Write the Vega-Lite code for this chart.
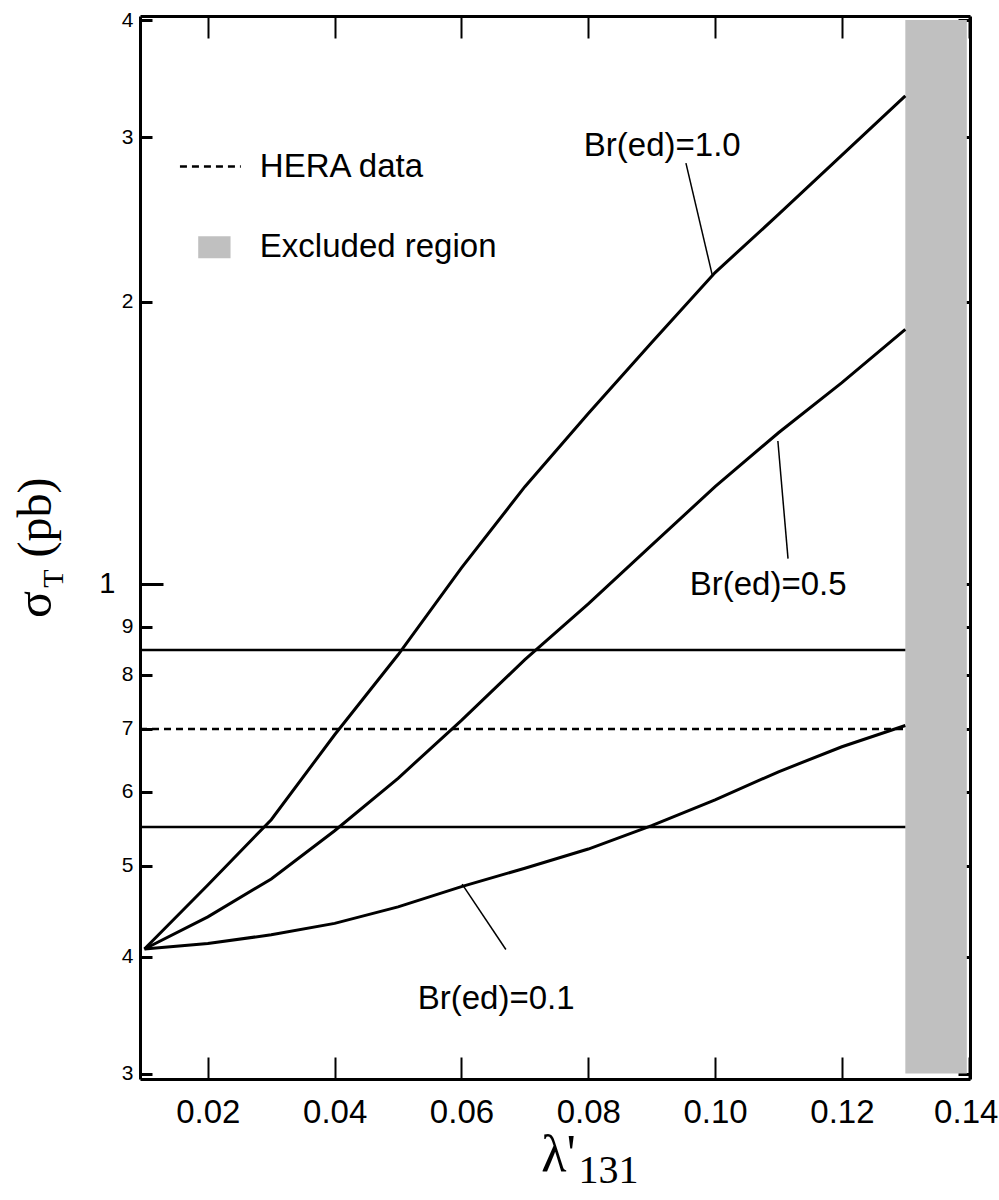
{
  "$schema": "https://vega.github.io/schema/vega-lite/v6.json",
  "width": 830,
  "height": 1063,
  "autosize": {"type": "none"},
  "padding": {"left": 140, "top": 16, "right": 29, "bottom": 121},
  "background": "white",
  "config": {
    "view": {"stroke": null},
    "axis": {"grid": false, "titleFontWeight": "normal", "titleColor": "black", "labelColor": "black", "tickColor": "black", "domainColor": "black"}
  },
  "datasets": {
    "curves": [
      {"lam": 0.01, "sigma": 0.4075, "br": "1.0"}, {"lam": 0.02, "sigma": 0.477, "br": "1.0"}, {"lam": 0.03, "sigma": 0.56, "br": "1.0"},
      {"lam": 0.04, "sigma": 0.69, "br": "1.0"}, {"lam": 0.05, "sigma": 0.84, "br": "1.0"}, {"lam": 0.06, "sigma": 1.04, "br": "1.0"},
      {"lam": 0.07, "sigma": 1.27, "br": "1.0"}, {"lam": 0.08, "sigma": 1.52, "br": "1.0"}, {"lam": 0.09, "sigma": 1.81, "br": "1.0"},
      {"lam": 0.10, "sigma": 2.15, "br": "1.0"}, {"lam": 0.11, "sigma": 2.48, "br": "1.0"}, {"lam": 0.12, "sigma": 2.87, "br": "1.0"},
      {"lam": 0.13, "sigma": 3.32, "br": "1.0"},
      {"lam": 0.01, "sigma": 0.4075, "br": "0.5"}, {"lam": 0.02, "sigma": 0.441, "br": "0.5"}, {"lam": 0.03, "sigma": 0.484, "br": "0.5"},
      {"lam": 0.04, "sigma": 0.545, "br": "0.5"}, {"lam": 0.05, "sigma": 0.62, "br": "0.5"}, {"lam": 0.06, "sigma": 0.715, "br": "0.5"},
      {"lam": 0.07, "sigma": 0.83, "br": "0.5"}, {"lam": 0.08, "sigma": 0.952, "br": "0.5"}, {"lam": 0.09, "sigma": 1.10, "br": "0.5"},
      {"lam": 0.10, "sigma": 1.27, "br": "0.5"}, {"lam": 0.11, "sigma": 1.45, "br": "0.5"}, {"lam": 0.12, "sigma": 1.64, "br": "0.5"},
      {"lam": 0.13, "sigma": 1.87, "br": "0.5"},
      {"lam": 0.01, "sigma": 0.4075, "br": "0.1"}, {"lam": 0.02, "sigma": 0.413, "br": "0.1"}, {"lam": 0.03, "sigma": 0.422, "br": "0.1"},
      {"lam": 0.04, "sigma": 0.434, "br": "0.1"}, {"lam": 0.05, "sigma": 0.452, "br": "0.1"}, {"lam": 0.06, "sigma": 0.475, "br": "0.1"},
      {"lam": 0.07, "sigma": 0.497, "br": "0.1"}, {"lam": 0.08, "sigma": 0.521, "br": "0.1"}, {"lam": 0.09, "sigma": 0.552, "br": "0.1"},
      {"lam": 0.10, "sigma": 0.588, "br": "0.1"}, {"lam": 0.11, "sigma": 0.630, "br": "0.1"}, {"lam": 0.12, "sigma": 0.670, "br": "0.1"},
      {"lam": 0.13, "sigma": 0.706, "br": "0.1"}
    ],
    "hlines": [
      {"sigma": 0.85, "from": 0.0093, "to": 0.13, "kind": "limit"},
      {"sigma": 0.70, "from": 0.0093, "to": 0.13, "kind": "HERA data"},
      {"sigma": 0.55, "from": 0.0093, "to": 0.13, "kind": "limit"}
    ],
    "excluded": [{"from": 0.13, "to": 0.1397, "low": 0.3, "high": 4.0}],
    "pointers": [
      {"x1": 0.0954, "y1": 2.814, "x2": 0.0996, "y2": 2.13},
      {"x1": 0.1099, "y1": 1.421, "x2": 0.1115, "y2": 1.064},
      {"x1": 0.0601, "y1": 0.478, "x2": 0.0670, "y2": 0.407}
    ],
    "labels": [
      {"text": "Br(ed)=1.0", "lam": 0.0793, "sigma": 2.934},
      {"text": "Br(ed)=0.5", "lam": 0.0960, "sigma": 0.998},
      {"text": "Br(ed)=0.1", "lam": 0.0531, "sigma": 0.360}
    ],
    "legendLine": [{"from": 0.0156, "to": 0.0252, "sigma": 2.79}],
    "legendBox": [{"from": 0.01848, "to": 0.02358, "low": 2.227, "high": 2.351}],
    "legendText": [
      {"text": "HERA data", "lam": 0.0282, "sigma": 2.79},
      {"text": "Excluded region", "lam": 0.0282, "sigma": 2.291}
    ]
  },
  "layer": [
    {
      "data": {"name": "excluded"},
      "mark": {"type": "rect", "fill": "#c0c0c0"},
      "encoding": {
        "x": {"field": "from", "type": "quantitative",
          "scale": {"type": "linear", "domain": [0.0093, 0.1402], "nice": false, "zero": false},
          "axis": {"orient": "top", "values": [0.02, 0.04, 0.06, 0.08, 0.1, 0.12, 0.14], "labels": false, "tickSize": -22, "tickWidth": 2, "domainWidth": 3, "title": null}},
        "x2": {"field": "to"},
        "y": {"field": "low", "type": "quantitative",
          "scale": {"type": "log", "domain": [0.296, 4.04], "nice": false},
          "axis": {"orient": "right", "values": [0.3, 0.4, 0.5, 0.6, 0.7, 0.8, 0.9, 1, 2, 3, 4], "labels": false,
            "tickSize": {"condition": {"test": "datum.value == 1", "value": -23}, "value": -12}, "tickWidth": 3, "domainWidth": 3, "title": null}},
        "y2": {"field": "high"}
      }
    },
    {
      "data": {"name": "hlines"},
      "mark": {"type": "rule", "strokeWidth": 2.5, "color": "black"},
      "encoding": {
        "x": {"field": "from", "type": "quantitative",
          "scale": {"type": "linear", "domain": [0.0093, 0.1402], "nice": false, "zero": false},
          "axis": {"orient": "bottom", "labels": false, "ticks": false, "domain": false, "title": "131",
            "titleFont": "Liberation Serif", "titleFontSize": 40, "titleX": 438, "titleY": 103, "titleAlign": "left", "titleBaseline": "alphabetic"}},
        "x2": {"field": "to"},
        "y": {"field": "sigma", "type": "quantitative",
          "scale": {"type": "log", "domain": [0.296, 4.04], "nice": false},
          "axis": {"orient": "left", "labels": false, "ticks": false, "domain": false, "title": "T",
            "titleFont": "Liberation Serif", "titleFontSize": 30, "titleAngle": -90, "titleX": -78, "titleY": 562, "titleAlign": "center", "titleBaseline": "alphabetic"}},
        "strokeDash": {"field": "kind", "type": "nominal", "scale": {"domain": ["limit", "HERA data"], "range": [[1, 0], [7, 5]]}, "legend": null}
      }
    },
    {
      "data": {"name": "curves"},
      "mark": {"type": "line", "strokeWidth": 3, "color": "black"},
      "encoding": {
        "x": {"field": "lam", "type": "quantitative",
          "scale": {"type": "linear", "domain": [0.0093, 0.1402], "nice": false, "zero": false},
          "axis": {"orient": "bottom", "values": [0.02, 0.04, 0.06, 0.08, 0.1, 0.12, 0.14], "format": ".2f",
            "labelFont": "Liberation Sans", "labelFontSize": 33, "labelPadding": 39, "labelFlush": false, "labelOverlap": false,
            "labelOffset": {"condition": {"test": "datum.value > 0.135", "value": -3}, "value": 0},
            "tickSize": -22, "tickWidth": 2, "domainWidth": 3,
            "title": "λ'", "titleFont": "Liberation Serif", "titleFontSize": 52, "titleX": 418, "titleY": 91, "titleAlign": "center", "titleBaseline": "alphabetic"}},
        "y": {"field": "sigma", "type": "quantitative",
          "scale": {"type": "log", "domain": [0.296, 4.04], "nice": false},
          "axis": {"orient": "left", "values": [0.3, 0.4, 0.5, 0.6, 0.7, 0.8, 0.9, 1, 2, 3, 4],
            "labelExpr": "datum.value < 1 ? '' + round(datum.value * 10) : '' + round(datum.value)",
            "labelFont": "Liberation Sans",
            "labelFontSize": {"condition": {"test": "datum.value == 1", "value": 29}, "value": 21},
            "labelPadding": {"condition": {"test": "datum.value == 1", "value": 48}, "value": 19},
            "labelOverlap": false, "labelBound": false, "labelFlush": false,
            "tickSize": {"condition": {"test": "datum.value == 1", "value": -23}, "value": -12}, "tickWidth": 3, "domainWidth": 3,
            "title": "σ", "titleFont": "Liberation Serif", "titleFontSize": 50, "titleAngle": -90, "titleX": -90, "titleY": 588, "titleAlign": "center", "titleBaseline": "alphabetic"}},
        "detail": {"field": "br", "type": "nominal"}
      }
    },
    {
      "data": {"name": "pointers"},
      "mark": {"type": "rule", "strokeWidth": 1.5, "color": "black"},
      "encoding": {
        "x": {"field": "x1", "type": "quantitative",
          "scale": {"type": "linear", "domain": [0.0093, 0.1402], "nice": false, "zero": false}, "axis": null},
        "x2": {"field": "x2"},
        "y": {"field": "y1", "type": "quantitative",
          "scale": {"type": "log", "domain": [0.296, 4.04], "nice": false},
          "axis": {"orient": "left", "labels": false, "ticks": false, "domain": false, "title": "(pb)",
            "titleFont": "Liberation Serif", "titleFontSize": 48, "titleAngle": -90, "titleX": -90, "titleY": 501, "titleAlign": "center", "titleBaseline": "alphabetic"}},
        "y2": {"field": "y2"}
      }
    },
    {
      "data": {"name": "labels"},
      "mark": {"type": "text", "font": "Liberation Sans", "fontSize": 33, "align": "left", "baseline": "middle", "color": "black"},
      "encoding": {
        "x": {"field": "lam", "type": "quantitative", "scale": {"type": "linear", "domain": [0.0093, 0.1402], "nice": false, "zero": false}, "axis": null},
        "y": {"field": "sigma", "type": "quantitative", "scale": {"type": "log", "domain": [0.296, 4.04], "nice": false}, "axis": null},
        "text": {"field": "text"}
      }
    },
    {
      "data": {"name": "legendLine"},
      "mark": {"type": "rule", "strokeWidth": 2.5, "strokeDash": [7, 5], "color": "black"},
      "encoding": {
        "x": {"field": "from", "type": "quantitative", "scale": {"type": "linear", "domain": [0.0093, 0.1402], "nice": false, "zero": false}, "axis": null},
        "x2": {"field": "to"},
        "y": {"field": "sigma", "type": "quantitative", "scale": {"type": "log", "domain": [0.296, 4.04], "nice": false}, "axis": null}
      }
    },
    {
      "data": {"name": "legendBox"},
      "mark": {"type": "rect", "fill": "#c0c0c0"},
      "encoding": {
        "x": {"field": "from", "type": "quantitative", "scale": {"type": "linear", "domain": [0.0093, 0.1402], "nice": false, "zero": false}, "axis": null},
        "x2": {"field": "to"},
        "y": {"field": "low", "type": "quantitative", "scale": {"type": "log", "domain": [0.296, 4.04], "nice": false}, "axis": null},
        "y2": {"field": "high"}
      }
    },
    {
      "data": {"name": "legendText"},
      "mark": {"type": "text", "font": "Liberation Sans", "fontSize": 33, "align": "left", "baseline": "middle", "color": "black"},
      "encoding": {
        "x": {"field": "lam", "type": "quantitative", "scale": {"type": "linear", "domain": [0.0093, 0.1402], "nice": false, "zero": false}, "axis": null},
        "y": {"field": "sigma", "type": "quantitative", "scale": {"type": "log", "domain": [0.296, 4.04], "nice": false}, "axis": null},
        "text": {"field": "text"}
      }
    }
  ],
  "resolve": {"axis": {"x": "independent", "y": "independent"}}
}
